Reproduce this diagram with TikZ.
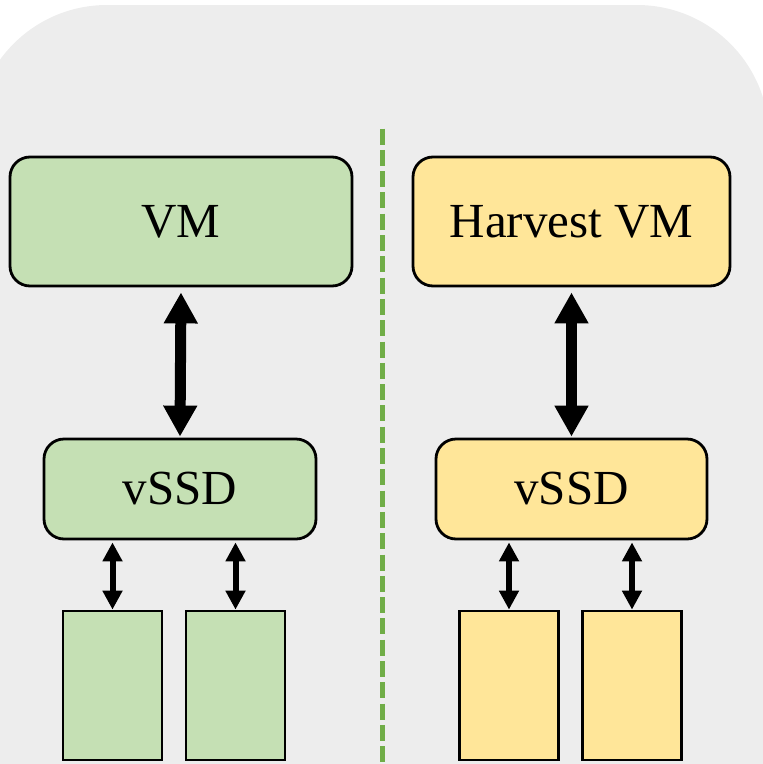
\documentclass[tikz,border=0pt]{standalone}
\usepackage{fontspec}
\setmainfont{Liberation Serif}
\usetikzlibrary{arrows.meta}
\definecolor{bggray}{HTML}{EDEDED}
\definecolor{vmgreen}{HTML}{C5E0B4}
\definecolor{hvyellow}{HTML}{FFE699}
\definecolor{dashgreen}{HTML}{70AD47}
\begin{document}
\begin{tikzpicture}[x=1pt,y=-1pt,
  box/.style={draw=black,line width=2.8pt,rounded corners=20pt,inner sep=0pt,
    font=\fontsize{49}{57}\selectfont},
  disk/.style={draw=black,line width=2.8pt,inner sep=0pt,minimum width=99pt,minimum height=149pt},
  bigarrow/.style={line width=11pt,{Triangle[width=32pt,length=31pt]}-{Triangle[width=32pt,length=31pt]}},
  smallarrow/.style={line width=6pt,{Triangle[width=19pt,length=19pt]}-{Triangle[width=19pt,length=19pt]}}]
\useasboundingbox (0,0) rectangle (763,764);
\begin{scope}
\clip (0,0) rectangle (763,764);
\fill[bggray,rounded corners=132pt] (-25,5) rectangle (769,950);
\draw[dashgreen,line width=5pt,dash pattern=on 16pt off 5.3pt] (382,128.5) -- (382,764);
\end{scope}
% left side
\node[box,fill=vmgreen,minimum width=342pt,minimum height=129pt] (vm) at (181,221.5) {VM};
\node[box,fill=vmgreen,minimum width=272pt,minimum height=100pt] (vssdl) at (180,489) {vSSD};
\node[disk,fill=vmgreen] (dl1) at (112.5,685.5) {};
\node[disk,fill=vmgreen] (dl2) at (235.5,685.5) {};
% right side
\node[box,fill=hvyellow,minimum width=317pt,minimum height=129pt] (hvm) at (571.5,221.5) {Harvest VM};
\node[box,fill=hvyellow,minimum width=271pt,minimum height=100pt] (vssdr) at (571.5,489) {vSSD};
\node[disk,fill=hvyellow] (dr1) at (509,685.5) {};
\node[disk,fill=hvyellow] (dr2) at (632,685.5) {};
% arrows
\draw[bigarrow,shorten <=5pt,shorten >=1pt] (vm.south) -- (vssdl.north);
\draw[bigarrow,shorten <=5pt,shorten >=1pt] (hvm.south) -- (vssdr.north);
\draw[smallarrow,shorten <=2pt] (dl1.north |- vssdl.south) -- (dl1.north);
\draw[smallarrow,shorten <=2pt] (dl2.north |- vssdl.south) -- (dl2.north);
\draw[smallarrow,shorten <=2pt] (dr1.north |- vssdr.south) -- (dr1.north);
\draw[smallarrow,shorten <=2pt] (dr2.north |- vssdr.south) -- (dr2.north);
\end{tikzpicture}
\end{document}
